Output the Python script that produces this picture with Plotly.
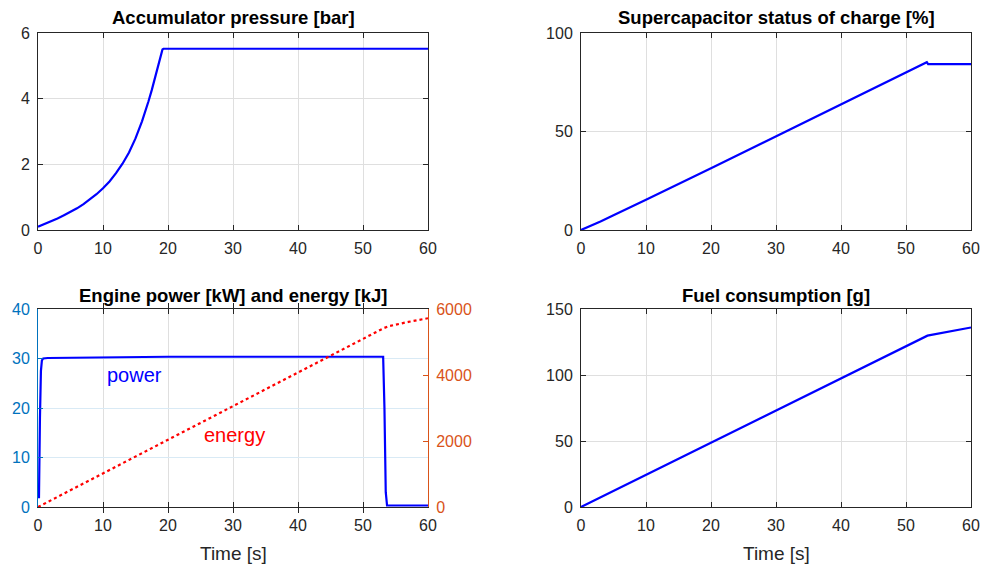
import plotly.graph_objects as go

# ---------------- data ----------------
t_acc = [0, 1, 2, 3, 4, 5, 6, 7, 8, 9, 10, 11, 12, 13, 14, 15, 16, 16.5, 17, 17.5, 18, 18.3, 18.6,
         18.8, 19.0, 19.15, 19.3, 20, 30, 40, 50, 60]
p_acc = [0.10, 0.18, 0.26, 0.35, 0.45, 0.55, 0.66, 0.79, 0.93, 1.09, 1.27, 1.48, 1.73, 2.02, 2.36, 2.79,
         3.31, 3.60, 3.92, 4.26, 4.64, 4.88, 5.14, 5.31, 5.44, 5.50, 5.52, 5.52, 5.52, 5.52, 5.52, 5.52]

t_soc = [0, 1, 2, 3, 5, 7, 10, 20, 30, 40, 50, 53.2, 53.4, 60]
soc = [0, 1.3, 2.8, 4.3, 7.5, 10.6, 15.3, 31.3, 47.6, 63.7, 80.2, 85.2, 84.2, 84.2]

t_pow = [0, 0.15, 0.3, 0.45, 0.6, 0.8, 1.5, 10, 20, 53.1, 53.3, 53.5, 53.7, 60]
power = [2, 2, 18, 27.5, 29.6, 30.0, 30.1, 30.2, 30.35, 30.35, 20, 3, 0.3, 0.3]

t_en = [0, 10, 20, 30, 40, 50, 53.2, 54, 55, 57, 60]
energy = [0, 1020, 2040, 3060, 4080, 5100, 5420, 5480, 5530, 5610, 5720]

t_fuel = [0, 10, 20, 30, 40, 50, 53.3, 60]
fuel = [0, 24.4, 48.8, 73.2, 97.6, 122, 129.8, 136]

x_ticks = [0, 10, 20, 30, 40, 50, 60]
titles = ["Accumulator pressure [bar]", "Supercapacitor status of charge [%]",
          "Engine power [kW] and energy [kJ]", "Fuel consumption [g]"]
xlabel = "Time [s]"

# ---------------- style ----------------
FONT = "Liberation Sans, Arial, Helvetica, sans-serif"
TXT = "#262626"
GRID = "#dfdfdf"
BLUE_AX = "#0072BD"
ORANGE_AX = "#D95319"
LINE_BLUE = "#0000FF"
W, H = 982, 564

XL = [38 / W, 428 / W]
XR = [581 / W, 971 / W]
YT = [1 - 230 / H, 1 - 33 / H]
YB = [1 - 507 / H, 1 - 309 / H]

fig = go.Figure()
fig.add_trace(go.Scatter(x=t_acc, y=p_acc, mode="lines", line=dict(color=LINE_BLUE, width=2.2),
                         xaxis="x", yaxis="y", showlegend=False))
fig.add_trace(go.Scatter(x=t_soc, y=soc, mode="lines", line=dict(color=LINE_BLUE, width=2.2),
                         xaxis="x2", yaxis="y2", showlegend=False))
fig.add_trace(go.Scatter(x=t_pow, y=power, mode="lines", line=dict(color=LINE_BLUE, width=2.2),
                         xaxis="x3", yaxis="y3", showlegend=False))
fig.add_trace(go.Scatter(x=t_en, y=energy, mode="lines", line=dict(color="#FF0000", width=2.2, dash="dot"),
                         xaxis="x3", yaxis="y4", showlegend=False))
fig.add_trace(go.Scatter(x=t_fuel, y=fuel, mode="lines", line=dict(color=LINE_BLUE, width=2.2),
                         xaxis="x4", yaxis="y5", showlegend=False))


def xax(domain, anchor):
    return dict(domain=domain, anchor=anchor, range=[0, 60], tickvals=x_ticks, automargin=False,
                showgrid=True, gridcolor=GRID, gridwidth=1, zeroline=False,
                showline=True, linecolor=TXT, linewidth=1, mirror="allticks",
                ticks="inside", ticklen=5, tickcolor=TXT,
                tickfont=dict(family=FONT, size=16, color=TXT), ticklabelstandoff=4)


def yax(domain, anchor, rng, vals, color=TXT, grid=GRID, mirror="allticks"):
    return dict(domain=domain, anchor=anchor, range=rng, tickvals=vals, automargin=False,
                showgrid=True, gridcolor=grid, gridwidth=1, zeroline=False,
                showline=True, linecolor=color, linewidth=1, mirror=mirror,
                ticks="inside", ticklen=5, tickcolor=color,
                tickfont=dict(family=FONT, size=16, color=color), ticklabelstandoff=4)


layout = dict(
    width=W, height=H, margin=dict(l=0, r=0, t=0, b=0, autoexpand=False),
    paper_bgcolor="white", plot_bgcolor="white", showlegend=False,
    xaxis=xax(XL, "y"),
    yaxis=yax(YT, "x", [0, 6], [0, 2, 4, 6]),
    xaxis2=xax(XR, "y2"),
    yaxis2=yax(YT, "x2", [0, 100], [0, 50, 100]),
    xaxis3=xax(XL, "y3"),
    yaxis3=yax(YB, "x3", [0, 40], [0, 10, 20, 30, 40], color=BLUE_AX, grid="#d9eaf5", mirror=False),
    yaxis4=dict(yax(YB, "x3", [0, 6000], [0, 2000, 4000, 6000], color=ORANGE_AX, mirror=False),
                overlaying="y3", side="right", showgrid=False),
    xaxis4=xax(XR, "y5"),
    yaxis5=yax(YB, "x4", [0, 150], [0, 50, 100, 150]),
)
fig.update_layout(**layout)

ann = []
title_pos = [((XL[0] + XL[1]) / 2, 1 - 18 / H), ((XR[0] + XR[1]) / 2, 1 - 18 / H),
             ((XL[0] + XL[1]) / 2, 1 - 295 / H), ((XR[0] + XR[1]) / 2, 1 - 295 / H)]
for txt, (px, py) in zip(titles, title_pos):
    ann.append(dict(text="<b>" + txt + "</b>", x=px, y=py, xref="paper", yref="paper",
                    xanchor="center", yanchor="middle", showarrow=False,
                    font=dict(family=FONT, size=18.5, color="black")))
for px in [(XL[0] + XL[1]) / 2, (XR[0] + XR[1]) / 2]:
    ann.append(dict(text=xlabel, x=px, y=1 - 553 / H, xref="paper", yref="paper",
                    xanchor="center", yanchor="middle", showarrow=False,
                    font=dict(family=FONT, size=19, color=TXT)))
ann.append(dict(text="power", x=14.9, y=26.7, xref="x3", yref="y3", showarrow=False,
                xanchor="center", yanchor="middle", font=dict(family=FONT, size=20, color=LINE_BLUE)))
ann.append(dict(text="energy", x=30.3, y=14.5, xref="x3", yref="y3", showarrow=False,
                xanchor="center", yanchor="middle", font=dict(family=FONT, size=20, color="#FF0000")))
fig.update_layout(annotations=ann)

fig.write_html("out.html", config={"displayModeBar": False},
               post_script="document.body.style.margin='0';document.body.style.overflow='hidden';")
